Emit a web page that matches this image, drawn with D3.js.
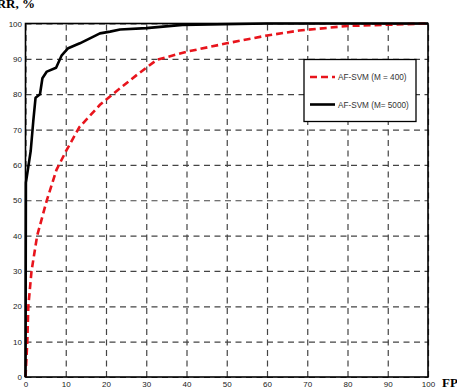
<!DOCTYPE html>
<html>
<head>
<meta charset="utf-8">
<script src="https://cdn.jsdelivr.net/npm/d3@7"></script>
<style>
  body { margin: 0; background: #fff; }
  svg { display: block; }
  .tick text { font-family: "Liberation Sans", Arial, sans-serif; font-size: 8px; fill: #222; }
  .title { font-family: "Liberation Serif", "Times New Roman", serif; font-weight: bold; font-size: 13px; }
  .legend text { font-family: "Liberation Sans", Arial, sans-serif; font-size: 8.2px; fill: #333; }
</style>
</head>
<body>
<div id="chart"></div>
<script>
// AF-SVM (M = 400): FP, RR
const fp400 = [0, 0.45, 0.7, 1.5, 2.9, 5.3, 7.7, 10.2, 13.4, 18.5, 22, 27.6, 32.6, 40, 50, 60, 68, 80, 100]
const rr400 = [0, 10, 20, 30, 40, 50, 58.6, 64.2, 70.7, 77, 80.3, 85.4, 89.7, 92, 94.4, 96.6, 98, 99.3, 100]

// AF-SVM (M= 5000): FP, RR
const fp5000 = [0, 0.1, 0.5, 1.3, 1.95, 2.5, 3.6, 4.2, 5.3, 7.6, 9, 10.6, 13.5, 16, 18.5, 21, 23.5, 30, 39, 60, 100]
const rr5000 = [0, 55, 58, 64, 72.6, 79, 80, 84.5, 86.4, 87.5, 91, 93, 94.4, 95.8, 97.2, 97.7, 98.3, 98.7, 99.6, 100, 100]

const xTicks = [0, 10, 20, 30, 40, 50, 60, 70, 80, 90, 100]
const yTicks = [0, 10, 20, 30, 40, 50, 60, 70, 80, 90, 100]

const width = 457, height = 388
const margin = {top: 23.5, right: 29, bottom: 11, left: 25.5}

const svg = d3.select("#chart").append("svg")
  .attr("width", width)
  .attr("height", height)
  .attr("viewBox", [0, 0, width, height])

const x = d3.scaleLinear().domain([0, 100]).range([margin.left, width - margin.right])
const y = d3.scaleLinear().domain([0, 100]).range([height - margin.bottom, margin.top])

// grid
svg.append("g")
  .attr("transform", `translate(0, ${height - margin.bottom})`)
  .call(d3.axisBottom(x).tickValues(xTicks).tickSize(-(y(0) - y(100))).tickPadding(4))
  .call(g => g.select(".domain").remove())
  .call(g => g.selectAll(".tick line")
    .attr("stroke", "#444").attr("stroke-width", 1.2).attr("stroke-dasharray", "6,4.5"))

svg.append("g")
  .attr("transform", `translate(${margin.left}, 0)`)
  .call(d3.axisLeft(y).tickValues(yTicks).tickSize(-(x(100) - x(0))).tickPadding(3.5))
  .call(g => g.select(".domain").remove())
  .call(g => g.selectAll(".tick line")
    .attr("stroke", "#444").attr("stroke-width", 1.2).attr("stroke-dasharray", "6,4.5"))

svg.selectAll(".tick text").attr("font-family", null).attr("font-size", null)

// frame
svg.append("rect")
  .attr("x", x(0)).attr("y", y(100))
  .attr("width", x(100) - x(0)).attr("height", y(0) - y(100))
  .attr("fill", "none").attr("stroke", "#000").attr("stroke-width", 1.6)

const line = d3.line().x(d => x(d[0])).y(d => y(d[1]))

svg.append("path")
  .attr("d", line(d3.zip(fp400, rr400)))
  .attr("fill", "none")
  .attr("stroke", "#e8141c")
  .attr("stroke-width", 2.6)
  .attr("stroke-dasharray", "7,4")

svg.append("path")
  .attr("d", line(d3.zip(fp5000, rr5000)))
  .attr("fill", "none")
  .attr("stroke", "#000")
  .attr("stroke-width", 2.6)
  .attr("stroke-linejoin", "round")

// axis titles
svg.append("text").attr("class", "title")
  .attr("x", 35).attr("y", 7.5).attr("text-anchor", "end")
  .text("RR, %")

svg.append("text").attr("class", "title")
  .attr("x", 442).attr("y", 386.5)
  .text("FP")

// legend
const legend = svg.append("g").attr("class", "legend")
legend.append("rect")
  .attr("x", 304).attr("y", 59.5).attr("width", 112).attr("height", 62)
  .attr("fill", "#fff").attr("stroke", "#000").attr("stroke-width", 1.3)

const entries = [
  {label: "AF-SVM (M = 400)", color: "#e8141c", dash: "7,4"},
  {label: "AF-SVM (M= 5000)", color: "#000", dash: null}
]

entries.forEach((e, i) => {
  const yy = 77 + i * 27.5
  legend.append("line")
    .attr("x1", 310).attr("x2", 335).attr("y1", yy).attr("y2", yy)
    .attr("stroke", e.color).attr("stroke-width", 2.6)
    .attr("stroke-dasharray", e.dash)
  legend.append("text")
    .attr("x", 338).attr("y", yy + 3)
    .text(e.label)
})
</script>
</body>
</html>
